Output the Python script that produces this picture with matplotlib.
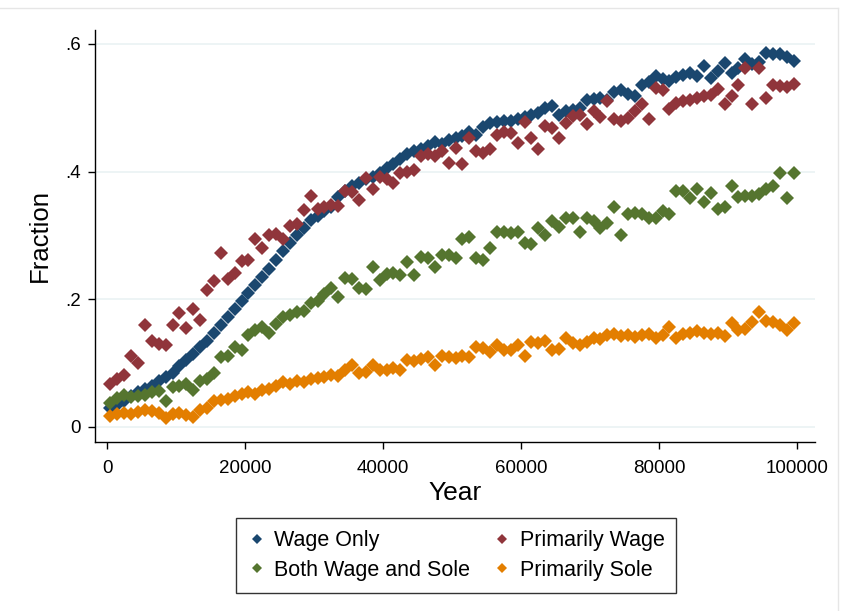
import matplotlib
matplotlib.use("Agg")
from matplotlib import pyplot as plt
from matplotlib.lines import Line2D

plt.rcParams['font.family'] = ['Liberation Sans', 'DejaVu Sans']

# bin midpoints, one per 1000 years
year = [500 + 1000 * k for k in range(100)]

wage_only = [
    0.030, 0.035, 0.040, 0.048, 0.055, 0.060, 0.065, 0.072, 0.078, 0.085,
    0.095, 0.105, 0.115, 0.125, 0.135, 0.148, 0.160, 0.172, 0.185, 0.198,
    0.210, 0.222, 0.235, 0.248, 0.262, 0.275, 0.288, 0.300, 0.312, 0.325,
    0.330, 0.338, 0.345, 0.360, 0.370, 0.378, 0.382, 0.388, 0.392, 0.398,
    0.405, 0.412, 0.420, 0.428, 0.432, 0.435, 0.440, 0.446, 0.444, 0.450,
    0.452, 0.456, 0.462, 0.458, 0.470, 0.476, 0.478, 0.480, 0.480, 0.482,
    0.485, 0.488, 0.492, 0.500, 0.503, 0.488, 0.495, 0.497, 0.500, 0.512,
    0.514, 0.515, 0.512, 0.525, 0.528, 0.522, 0.518, 0.535, 0.540, 0.550,
    0.545, 0.542, 0.548, 0.552, 0.555, 0.550, 0.565, 0.547, 0.558, 0.570,
    0.555, 0.562, 0.577, 0.568, 0.572, 0.586, 0.584, 0.584, 0.580, 0.574,
]

primarily_wage = [
    0.068, 0.075, 0.082, 0.112, 0.100, 0.160, 0.135, 0.130, 0.128, 0.160,
    0.178, 0.155, 0.185, 0.168, 0.215, 0.228, 0.272, 0.232, 0.242, 0.260,
    0.262, 0.295, 0.280, 0.300, 0.302, 0.295, 0.315, 0.318, 0.340, 0.362,
    0.342, 0.345, 0.348, 0.346, 0.370, 0.368, 0.355, 0.390, 0.373, 0.392,
    0.388, 0.383, 0.398, 0.400, 0.402, 0.425, 0.428, 0.425, 0.433, 0.414,
    0.437, 0.412, 0.452, 0.433, 0.430, 0.435, 0.458, 0.462, 0.460, 0.445,
    0.478, 0.452, 0.436, 0.472, 0.469, 0.452, 0.477, 0.487, 0.488, 0.475,
    0.495, 0.485, 0.510, 0.482, 0.480, 0.484, 0.495, 0.506, 0.482, 0.531,
    0.528, 0.498, 0.508, 0.510, 0.512, 0.515, 0.518, 0.520, 0.530, 0.506,
    0.518, 0.535, 0.562, 0.506, 0.562, 0.515, 0.535, 0.534, 0.532, 0.538,
]

both_wage_sole = [
    0.038, 0.045, 0.050, 0.047, 0.048, 0.050, 0.055, 0.057, 0.040, 0.062,
    0.064, 0.068, 0.058, 0.072, 0.075, 0.085, 0.110, 0.112, 0.125, 0.120,
    0.144, 0.152, 0.156, 0.147, 0.162, 0.172, 0.176, 0.180, 0.182, 0.195,
    0.197, 0.209, 0.217, 0.203, 0.233, 0.232, 0.217, 0.216, 0.250, 0.230,
    0.240, 0.242, 0.238, 0.258, 0.238, 0.266, 0.264, 0.250, 0.269, 0.269,
    0.264, 0.295, 0.298, 0.264, 0.262, 0.281, 0.305, 0.306, 0.304, 0.305,
    0.288, 0.286, 0.311, 0.300, 0.323, 0.313, 0.328, 0.328, 0.305, 0.328,
    0.323, 0.311, 0.320, 0.344, 0.300, 0.334, 0.336, 0.334, 0.328, 0.328,
    0.339, 0.334, 0.370, 0.370, 0.358, 0.373, 0.352, 0.367, 0.342, 0.345,
    0.378, 0.360, 0.362, 0.362, 0.365, 0.373, 0.378, 0.398, 0.358, 0.398,
]

primarily_sole = [
    0.018, 0.020, 0.022, 0.020, 0.024, 0.026, 0.025, 0.022, 0.014, 0.020,
    0.022, 0.019, 0.016, 0.027, 0.030, 0.040, 0.042, 0.044, 0.048, 0.052,
    0.055, 0.052, 0.058, 0.060, 0.065, 0.070, 0.068, 0.072, 0.070, 0.075,
    0.076, 0.078, 0.081, 0.080, 0.090, 0.097, 0.084, 0.086, 0.097, 0.090,
    0.089, 0.092, 0.090, 0.105, 0.104, 0.106, 0.109, 0.097, 0.112, 0.110,
    0.108, 0.112, 0.110, 0.125, 0.124, 0.117, 0.128, 0.120, 0.121, 0.128,
    0.112, 0.133, 0.132, 0.135, 0.120, 0.122, 0.140, 0.131, 0.128, 0.133,
    0.140, 0.138, 0.144, 0.145, 0.142, 0.144, 0.141, 0.144, 0.145, 0.140,
    0.144, 0.156, 0.140, 0.146, 0.148, 0.150, 0.148, 0.146, 0.148, 0.143,
    0.163, 0.152, 0.154, 0.164, 0.180, 0.166, 0.164, 0.160, 0.152, 0.163,
]

series = [
    ('Wage Only', wage_only, '#1a476f'),
    ('Primarily Wage', primarily_wage, '#90353b'),
    ('Both Wage and Sole', both_wage_sole, '#55752f'),
    ('Primarily Sole', primarily_sole, '#e37e00'),
]

xticks = [0, 20000, 40000, 60000, 80000, 100000]
yticks = [0, 0.2, 0.4, 0.6]
ytick_labels = ['0', '.2', '.4', '.6']

fig = plt.figure(figsize=(8.53, 6.11), dpi=100)
ax = fig.add_axes([0.1114, 0.2766, 0.8441, 0.6744])

handles = {}
for name, vals, col in series:
    h, = ax.plot(year, vals, linestyle='none', marker='D', markersize=6.8,
                 markeredgewidth=0, color=col, label=name)
    handles[name] = h

ax.set_xlim(-1740, 102600)
ax.set_ylim(-0.0235, 0.622)
ax.set_xticks(xticks)
ax.set_xticklabels([str(t) for t in xticks])
ax.set_yticks(yticks)
ax.set_yticklabels(ytick_labels)
ax.grid(axis='y', color='#eaf2f3', linewidth=1.2)
ax.set_axisbelow(True)

for side in ['top', 'right']:
    ax.spines[side].set_visible(False)
for side in ['left', 'bottom']:
    ax.spines[side].set_color('black')
    ax.spines[side].set_linewidth(1.0)

ax.tick_params(direction='out', length=5, width=1, labelsize=13.5, pad=5)
ax.tick_params(axis='x', pad=8)
ax.set_xlabel('Year', fontsize=19, labelpad=3)
ax.set_ylabel('Fraction', fontsize=18.5, labelpad=10)

# legend fills column by column, so order gives two rows of two
order = ['Wage Only', 'Both Wage and Sole', 'Primarily Wage', 'Primarily Sole']
fig.legend([handles[n] for n in order], order,
           loc='center', bbox_to_anchor=(0.535, 0.091), ncol=2,
           fontsize=15.5, frameon=True, fancybox=False, edgecolor='black',
           handlelength=0.8, handletextpad=0.4, columnspacing=1.1,
           labelspacing=0.4, markerscale=0.75, borderpad=0.55)

# thin frame lines at the top and right of the canvas
fig.add_artist(Line2D([0, 838 / 853], [1 - 8 / 611, 1 - 8 / 611],
                      transform=fig.transFigure, color='#e6e6e6', lw=1))
fig.add_artist(Line2D([838 / 853, 838 / 853], [0, 1 - 8 / 611],
                      transform=fig.transFigure, color='#e6e6e6', lw=1))

fig.savefig('out.png', dpi=100)
